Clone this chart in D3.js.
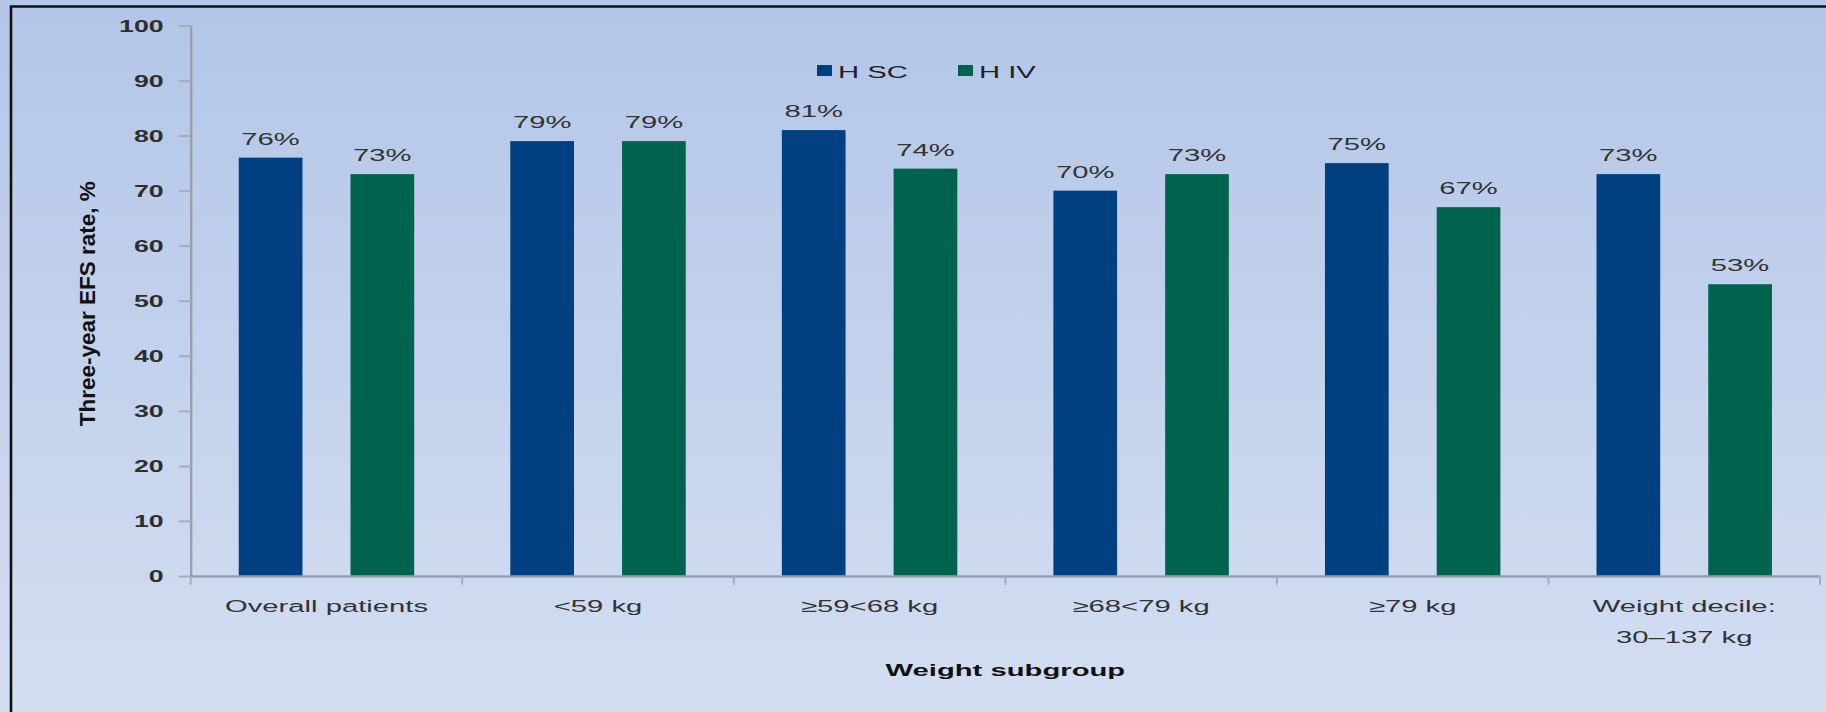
<!DOCTYPE html>
<html>
<head>
<meta charset="utf-8">
<script src="https://cdn.jsdelivr.net/npm/d3@7"></script>
<style>
  html, body { margin: 0; padding: 0; background: #c3d2ec; }
  svg { display: block; }
  text { font-family: "Liberation Sans", Arial, sans-serif; }
</style>
</head>
<body>
<svg id="chart" width="1826" height="712"></svg>
<script>
// Three-year EFS rate by weight subgroup, H SC vs H IV
const categories = ["Overall patients", "<59 kg", "≥59<68 kg", "≥68<79 kg", "≥79 kg", "Weight decile:\n30–137 kg"];
const seriesNames = ["H SC", "H IV"];
const hscValues = [76, 79, 81, 70, 75, 73];
const hivValues = [73, 79, 74, 73, 67, 53];
const yTicks = [0, 10, 20, 30, 40, 50, 60, 70, 80, 90, 100];
const seriesColors = ["#003f80", "#00634e"];

const W = 1826, H = 712;
const plot = { left: 190.7, right: 1820, top: 25.5, bottom: 576 };
const SX = 1.72;          // horizontal text stretch
const TICK_SX = 1.62;

const svg = d3.select("#chart");

// background
const defs = svg.append("defs");
const grad = defs.append("linearGradient").attr("id", "bg").attr("x1", 0).attr("y1", 0).attr("x2", 0).attr("y2", 1);
grad.append("stop").attr("offset", "0%").attr("stop-color", "#b3c6e8");
grad.append("stop").attr("offset", "100%").attr("stop-color", "#d3def1");
svg.append("rect").attr("width", W).attr("height", H).attr("fill", "url(#bg)");

// frame (top and left edges)
svg.append("path")
  .attr("d", `M11,${H} L11,6.5 L${W},6.5`)
  .attr("fill", "none").attr("stroke", "#111").attr("stroke-width", 2.6);

// scales
const x0 = d3.scaleBand().domain(categories).range([plot.left, plot.right]).paddingInner(0).paddingOuter(0);
const x1 = d3.scaleBand().domain(seriesNames).range([0, x0.bandwidth()]).paddingInner(0.43).paddingOuter(0.43);
const y = d3.scaleLinear().domain([0, 100]).range([plot.bottom, plot.top]);
const color = d3.scaleOrdinal().domain(seriesNames).range(seriesColors);

const rows = categories.map((c, i) => ({ cat: c, vals: [
  { s: seriesNames[0], v: hscValues[i] },
  { s: seriesNames[1], v: hivValues[i] }
]}));

// y axis
const yAxis = svg.append("g").attr("transform", `translate(${plot.left},0)`)
  .call(d3.axisLeft(y).tickValues(yTicks).tickSize(12).tickSizeOuter(0).tickPadding(0));
yAxis.select(".domain").attr("stroke", "#9aa0ab").attr("stroke-width", 2.4);
yAxis.selectAll(".tick line").attr("stroke", "#a7adb8").attr("stroke-width", 2);
yAxis.selectAll(".tick text")
  .attr("x", null).attr("dy", "0.36em")
  .attr("transform", `translate(-27,0) scale(${TICK_SX},1)`)
  .attr("font-size", 16.5).attr("font-weight", "bold").attr("fill", "#2e2e2e");

// bars
const groups = svg.append("g").selectAll("g").data(rows).join("g")
  .attr("transform", d => `translate(${x0(d.cat)},0)`);
groups.selectAll("rect").data(d => d.vals).join("rect")
  .attr("x", d => x1(d.s))
  .attr("y", d => y(d.v))
  .attr("width", x1.bandwidth())
  .attr("height", d => y(0) - y(d.v))
  .attr("fill", d => color(d.s));

// value labels
groups.selectAll("text.val").data(d => d.vals).join("text")
  .attr("class", "val")
  .attr("transform", d => `translate(${x1(d.s) + x1.bandwidth() / 2},${y(d.v) - 13}) scale(${SX},1)`)
  .attr("text-anchor", "middle")
  .attr("font-size", 17).attr("fill", "#333")
  .text(d => `${d.v}%`);

// x axis
const xAxis = svg.append("g").attr("transform", `translate(0,${plot.bottom})`)
  .call(d3.axisBottom(x0).tickSize(0).tickSizeOuter(0).tickFormat(""));
xAxis.select(".domain").attr("stroke", "#9aa0ab").attr("stroke-width", 2.4);
const bounds = categories.map(c => x0(c)).concat([x0.range()[1]]);
xAxis.selectAll("line.bound").data(bounds).join("line")
  .attr("class", "bound")
  .attr("x1", d => d).attr("x2", d => d).attr("y1", 0).attr("y2", 9)
  .attr("stroke", "#a7adb8").attr("stroke-width", 2);

// category labels
const catLabels = svg.append("g").selectAll("text").data(categories).join("text")
  .attr("transform", d => `translate(${x0(d) + x0.bandwidth() / 2},612) scale(${SX},1)`)
  .attr("text-anchor", "middle")
  .attr("font-size", 17).attr("fill", "#333");
catLabels.selectAll("tspan").data(d => d.split("\n")).join("tspan")
  .attr("x", 0).attr("dy", (d, i) => i === 0 ? 0 : 31)
  .text(d => d);

// axis titles
svg.append("text")
  .attr("transform", `translate(${(plot.left + plot.right) / 2},676) scale(${SX},1)`)
  .attr("text-anchor", "middle").attr("font-size", 17).attr("font-weight", "bold").attr("fill", "#111")
  .text("Weight subgroup");

svg.append("text")
  .attr("transform", `translate(95,${(plot.top + plot.bottom) / 2 + 3}) rotate(-90)`)
  .attr("text-anchor", "middle").attr("font-size", 22.5).attr("font-weight", "bold").attr("fill", "#111")
  .text("Three-year EFS rate, %");

// legend
const legend = svg.append("g").attr("transform", "translate(817,0)");
const li = legend.selectAll("g").data(seriesNames).join("g")
  .attr("transform", (d, i) => `translate(${i * 141},0)`);
li.append("rect").attr("x", 0).attr("y", 65).attr("width", 15).attr("height", 11)
  .attr("fill", d => color(d));
li.append("text")
  .attr("transform", `translate(21,77.5) scale(${SX},1)`)
  .attr("font-size", 17).attr("fill", "#222")
  .text(d => d);
</script>
</body>
</html>
